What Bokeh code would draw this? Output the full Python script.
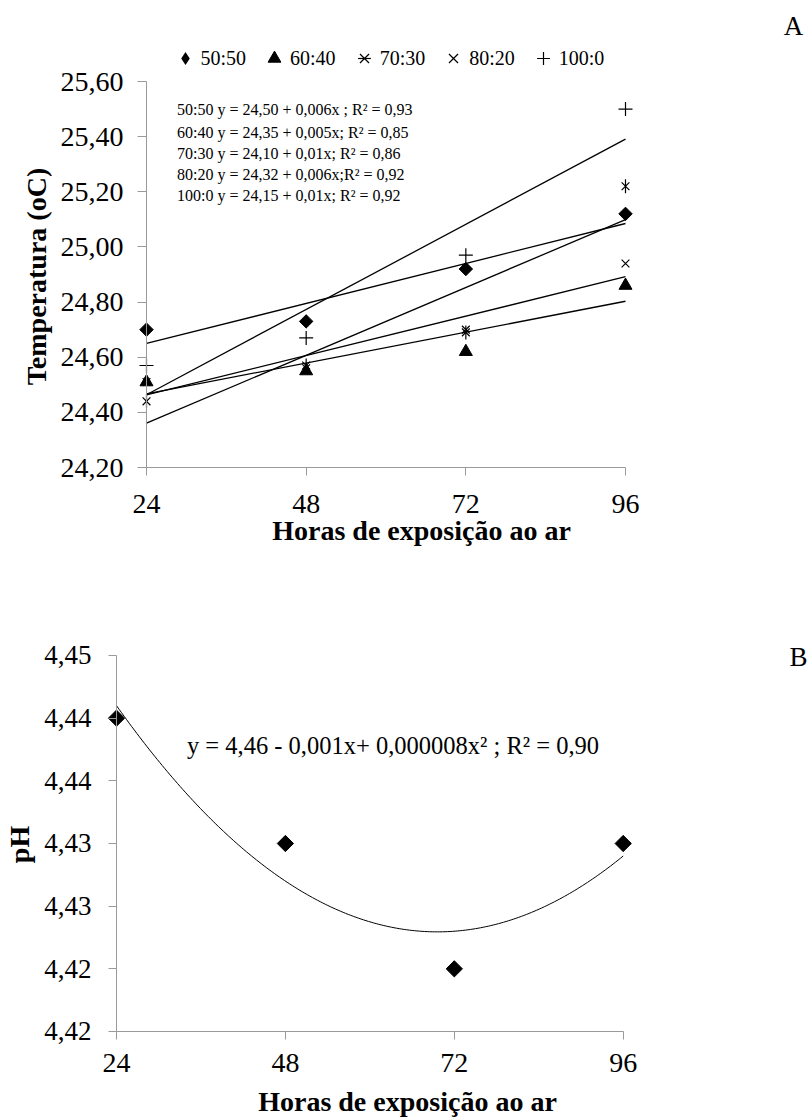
import numpy as np
from bokeh.plotting import figure
from bokeh.models import (FixedTicker, CustomJSTickFormatter, Legend, LegendItem,
                          Label, Range1d)
from bokeh.layouts import column
from bokeh.embed import file_html
from bokeh.resources import INLINE

# ---------------- data ----------------
hours = [24, 48, 72, 96]
hour_ticks = [24, 48, 72, 96]

series_names = ["50:50", "60:40", "70:30", "80:20", "100:0"]
temp_50_50 = [24.70, 24.73, 24.92, 25.12]
temp_60_40 = [24.51, 24.55, 24.62, 24.86]
temp_70_30 = [24.44, 24.57, 24.69, 25.22]
temp_80_20 = [24.51, 24.56, 24.70, 24.94]
temp_100_0 = [24.57, 24.67, 24.97, 25.50]

equations_A = [
    "50:50 y = 24,50 + 0,006x  ; R\u00b2 = 0,93",
    "60:40 y = 24,35 + 0,005x;  R\u00b2 = 0,85",
    "70:30 y = 24,10 + 0,01x;  R\u00b2 = 0,86",
    "80:20 y = 24,32 + 0,006x;R\u00b2 = 0,92",
    "100:0 y = 24,15 + 0,01x;  R\u00b2 = 0,92",
]
temp_ticks = [24.2, 24.4, 24.6, 24.8, 25.0, 25.2, 25.4, 25.6]
temp_tick_labels = ["24,20", "24,40", "24,60", "24,80", "25,00", "25,20", "25,40", "25,60"]

ph_values = [4.44, 4.43, 4.42, 4.43]
ph_ticks = [4.415, 4.42, 4.425, 4.43, 4.435, 4.44, 4.445]
ph_tick_labels = ["4,42", "4,42", "4,43", "4,43", "4,44", "4,44", "4,45"]
equation_B = "y = 4,46 - 0,001x+ 0,000008x\u00b2 ; R\u00b2 = 0,90"

x_title = "Horas de exposi\u00e7\u00e3o ao ar"
y_title_A = "Temperatura (oC)"
y_title_B = "pH"

FONT = "Liberation Serif"
AXIS_GRAY = "#9a9a9a"


def lookup_formatter(tick_values, tick_texts):
    return CustomJSTickFormatter(args=dict(tvals=tick_values, ttexts=tick_texts), code="""
        let best = 0;
        for (let i = 0; i < tvals.length; i++) {
            if (Math.abs(tvals[i] - tick) < Math.abs(tvals[best] - tick)) best = i;
        }
        return ttexts[best];
    """)


def make_fig(height, xr, yr):
    p = figure(width=808, height=height, output_backend="svg", toolbar_location=None,
               x_range=Range1d(*xr), y_range=Range1d(*yr),
               min_border_left=0, min_border_right=0, min_border_top=0,
               min_border_bottom=0)
    p.grid.visible = False
    p.outline_line_color = None
    p.background_fill_color = "white"
    p.border_fill_color = "white"
    return p


def style_axis(ax, size, tick_out, standoff):
    ax.axis_line_color = AXIS_GRAY
    ax.major_tick_line_color = AXIS_GRAY
    ax.minor_tick_line_color = None
    ax.major_tick_in = 0
    ax.major_tick_out = tick_out
    ax.major_label_standoff = standoff
    ax.major_label_text_font = FONT
    ax.major_label_text_font_size = size
    ax.major_label_text_color = "black"


def add_text(p, x, y, text, size, align="left", bold=False, angle=0.0):
    p.add_layout(Label(x=x, y=y, text=text, text_font=FONT, text_font_size=size,
                       text_font_style="bold" if bold else "normal",
                       text_align=align, text_baseline="middle",
                       angle=angle, text_color="black"))


# ---------------- panel A ----------------
pA = make_fig(590, (2.054, 123.507), (23.7539, 25.8938))

series_A = [temp_50_50, temp_60_40, temp_70_30, temp_80_20, temp_100_0]
xs_line = np.array([hours[0], hours[-1]], dtype=float)
for ys in series_A:
    k, b = np.polyfit(hours, ys, 1)
    pA.line(xs_line, b + k * xs_line, line_color="black", line_width=1.3)

pA.scatter(hours, temp_50_50, marker="square", angle=np.pi / 4, size=9.5,
           fill_color="black", line_color="black")
r1 = pA.scatter(hours, temp_50_50, marker="diamond", size=13,
                fill_color="black", line_color=None)
r2 = pA.scatter(hours, temp_60_40, marker="triangle", size=13,
                fill_color="black", line_color="black")
r3a = pA.scatter(hours, temp_70_30, marker="x", size=11, line_color="black", line_width=1.2)
r3b = pA.scatter(hours, temp_70_30, marker="dash", angle=np.pi / 2, size=14,
                 line_color="black", line_width=1.2)
r4 = pA.scatter(hours, temp_80_20, marker="x", size=11, line_color="black", line_width=1.2)
r5 = pA.scatter(hours, temp_100_0, marker="cross", size=14, line_color="black", line_width=1.2)

legend = Legend(items=[LegendItem(label=series_names[0], renderers=[r1]),
                       LegendItem(label=series_names[1], renderers=[r2]),
                       LegendItem(label=series_names[2], renderers=[r3a, r3b]),
                       LegendItem(label=series_names[3], renderers=[r4]),
                       LegendItem(label=series_names[4], renderers=[r5])],
                orientation="horizontal", location=(168.5, 516), padding=0, margin=0,
                spacing=12, glyph_width=32, glyph_height=32, label_height=32,
                label_standoff=0, label_text_font=FONT, label_text_font_size="20px",
                label_text_color="black", border_line_color=None,
                background_fill_alpha=0)
pA.add_layout(legend, "center")

eq_y = [25.4974, 25.4161, 25.3378, 25.2638, 25.1876]
for txt, yy in zip(equations_A, eq_y):
    add_text(pA, 28.6, yy, txt, "16px")

add_text(pA, 121.25, 25.7995, "A", "27px", align="center")
add_text(pA, 65.34, 23.9715, x_title, "28px", align="center", bold=True)
add_text(pA, 7.465, 24.8927, y_title_A, "28px", align="center", bold=True, angle=np.pi / 2)

xa = pA.xaxis[0]
style_axis(xa, "28px", 8, 19)
xa.ticker = FixedTicker(ticks=hour_ticks)
xa.fixed_location = 24.2
xa.bounds = (24, 96)

ya = pA.yaxis[0]
style_axis(ya, "28px", 9, 14)
ya.ticker = FixedTicker(ticks=temp_ticks)
ya.formatter = lookup_formatter(temp_ticks, temp_tick_labels)
ya.fixed_location = 24
ya.bounds = (24.2, 25.6)

# ---------------- panel B ----------------
pB = make_fig(528, (7.517, 122.330), (4.408058, 4.450186))

c2, c1, c0 = np.polyfit(hours, ph_values, 2)
xs_curve = np.linspace(hours[0], hours[-1], 200)
pB.line(xs_curve, c0 + c1 * xs_curve + c2 * xs_curve ** 2, line_color="black", line_width=1)
pB.scatter(hours, ph_values, marker="square", angle=np.pi / 4, size=11.5,
           fill_color="black", line_color="black")

add_text(pB, 63.29, 4.43778, equation_B, "24.5px", align="center")
add_text(pB, 120.91, 4.44492, "B", "27px", align="center")
add_text(pB, 65.35, 4.409415, x_title, "28px", align="center", bold=True)
add_text(pB, 10.26, 4.42992, y_title_B, "28px", align="center", bold=True, angle=np.pi / 2)

xb = pB.xaxis[0]
style_axis(xb, "28px", 8, 15)
xb.ticker = FixedTicker(ticks=hour_ticks)
xb.fixed_location = 4.415
xb.bounds = (24, 96)

yb = pB.yaxis[0]
style_axis(yb, "27px", 8, 17)
yb.ticker = FixedTicker(ticks=ph_ticks)
yb.formatter = lookup_formatter(ph_ticks, ph_tick_labels)
yb.fixed_location = 24
yb.bounds = (4.415, 4.445)

layout = column(pA, pB)
open("out.html", "w").write(file_html(layout, INLINE, "Temperatura e pH"))
